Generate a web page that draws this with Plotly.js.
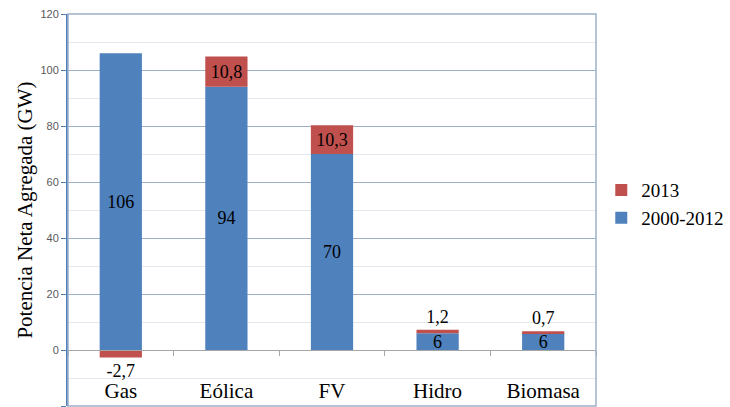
<!DOCTYPE html>
<html>
<head>
<meta charset="utf-8">
<script src="https://cdn.plot.ly/plotly-3.0.1.min.js"></script>
<style>html,body{margin:0;padding:0;background:#fff;}#chart{width:730px;height:407px;}</style>
</head>
<body>
<div id="chart"></div>
<script>
var categories = ["Gas", "Eólica", "FV", "Hidro", "Biomasa"];
var base2000_2012 = [106, 94, 70, 6, 6];
var add2013 = [-2.7, 10.8, 10.3, 1.2, 0.7];
var label2013Pos = ["outside", "inside", "inside", "outside", "outside"];
var yTicks = [-20, 0, 20, 40, 60, 80, 100, 120];

function fmt(v) { return String(v).replace('.', ','); }

var SERIF = "Times New Roman";

var traceBase = {
  type: 'bar', name: '2000-2012', x: categories, y: base2000_2012,
  marker: {color: '#4F81BD'},
  text: base2000_2012.map(fmt), textposition: 'inside', insidetextanchor: 'middle', textangle: 0,
  textfont: {family: SERIF, size: 18, color: '#000'},
  hoverinfo: 'none'
};
var trace2013 = {
  type: 'bar', name: '2013', x: categories, y: add2013,
  marker: {color: '#C0504D'},
  text: add2013.map(fmt), textposition: label2013Pos, insidetextanchor: 'middle', textangle: 0,
  textfont: {family: SERIF, size: 18, color: '#000'},
  cliponaxis: false,
  hoverinfo: 'none'
};

var layout = {
  width: 730, height: 407,
  font: {family: SERIF, color: '#000'},
  margin: {l: 68, r: 130, t: 14, b: 1},
  paper_bgcolor: '#fff', plot_bgcolor: '#fff',
  barmode: 'relative', bargap: 0.6,
  showlegend: true,
  uniformtext: {minsize: 17, mode: 'show'},
  legend: {x: 1.01, y: 0.515, xanchor: 'left', yanchor: 'middle', traceorder: 'reversed',
           font: {family: SERIF, size: 19, color: '#000'}, itemwidth: 30, tracegroupgap: 0},
  xaxis: {
    type: 'category', anchor: 'free', position: 20/140,
    showline: true, linecolor: '#A6A6A6', linewidth: 1,
    ticks: 'outside', tickson: 'boundaries', ticklen: 5, tickcolor: '#A6A6A6',
    ticklabelstandoff: 22,
    tickfont: {family: SERIF, size: 21, color: '#000'},
    showgrid: false, zeroline: false
  },
  yaxis: {
    range: [-20, 120], tickvals: yTicks, ticktext: yTicks.map(String),
    showline: true, linecolor: '#4F81BD', linewidth: 2,
    ticks: 'outside', ticklen: 5, tickcolor: '#4F81BD',
    tickfont: {family: 'Liberation Sans', size: 11, color: '#595959'},
    showgrid: true, gridcolor: '#9DB0C8', gridwidth: 1,
    minor: {dtick: 10, tick0: 0, showgrid: true, gridcolor: '#E3E8EE', ticks: ''},
    zeroline: true, zerolinecolor: '#A6A6A6', zerolinewidth: 1,
    title: {text: 'Potencia Neta Agregada (GW)', font: {family: SERIF, size: 21, color: '#000'}, standoff: 2}
  },
  shapes: [{type: 'rect', xref: 'paper', yref: 'paper', x0: 0, x1: 1, y0: 0, y1: 1,
            line: {color: '#9DB0C8', width: 1.5}, fillcolor: 'rgba(0,0,0,0)', layer: 'above'}]
};

Plotly.newPlot('chart', [traceBase, trace2013], layout, {displayModeBar: false});
</script>
</body>
</html>
